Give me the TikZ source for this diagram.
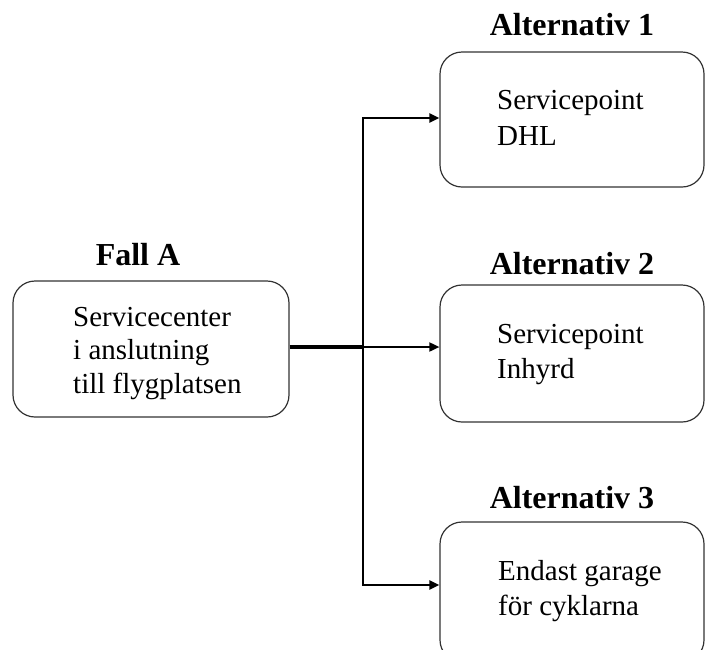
\documentclass[tikz,border=0pt]{standalone}
\usepackage{fontspec}
\setmainfont{Liberation Serif}
\usetikzlibrary{arrows.meta}
\begin{document}
\begin{tikzpicture}[x=1pt,y=-1pt,
  box/.style={draw=black!80, line width=1.2pt, rounded corners=22pt, rectangle, inner sep=0pt},
  head/.style={font=\fontsize{32}{36}\selectfont\bfseries, anchor=base, inner sep=0pt},
  body/.style={font=\fontsize{29}{35}\selectfont, anchor=base west, inner sep=0pt, align=left},
  tip/.style={-{Triangle[length=10pt,width=9pt]}},
]
\useasboundingbox (0,0) rectangle (705,649);
\clip (0,0) rectangle (705,649);

% boxes
\node[box, minimum width=276pt, minimum height=136pt] (fallA) at (151,349) {};
\node[box, minimum width=264pt, minimum height=135pt] (alt1) at (572,119.5) {};
\node[box, minimum width=264pt, minimum height=137pt] (alt2) at (572,353.5) {};
\node[box, minimum width=264pt, minimum height=140pt] (alt3) at (572,592) {};

% headings
\node[head] (hA) at (138,265) {Fall A};
\node[head] (h1) at (572,35) {Alternativ 1};
\node[head] (h2) at (572,274) {Alternativ 2};
\node[head] (h3) at (572,508) {Alternativ 3};

% box texts (anchored at the baseline of the last line)
\node[body, font=\fontsize{29}{33.5}\selectfont] (tA) at (73,393) {Servicecenter\\i anslutning\\till flygplatsen};
\node[body, font=\fontsize{29}{36}\selectfont] (t1) at (497,145) {Servicepoint\\DHL};
\node[body] (t2) at (497,378) {Servicepoint\\Inhyrd};
\node[body] (t3) at (498,615) {Endast garage\\för cyklarna};

% connectors
\coordinate (j) at (363,347);
\coordinate (up) at (363,118);
\coordinate (down) at (363,585);
\draw[line width=4.5pt] (fallA.east |- j) -- (j);
\draw[line width=2.4pt, {Triangle[length=10pt,width=9pt]}-{Triangle[length=10pt,width=9pt]}]
  (alt1.west |- up) -- (up) -- (down) -- (alt3.west |- down);
\draw[line width=1.8pt, tip] (j) -- (alt2.west |- j);
\end{tikzpicture}
\end{document}
